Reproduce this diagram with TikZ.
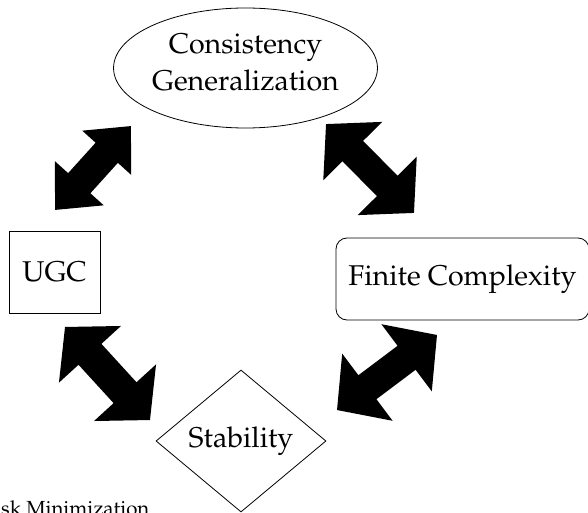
\documentclass[tikz,border=0pt]{standalone}
\usepackage[T1]{fontenc}
\usepackage{mathpazo}
\usetikzlibrary{shapes.geometric}
\newcommand\bigdarrow[6]{% center, angle, length, head width, shaft width, head length
  \fill[shift={(#1)}, rotate=#2]
    ({#3/2},0) -- ({#3/2-#6},{#4/2}) -- ({#3/2-#6},{#5/2}) -- ({-#3/2+#6},{#5/2})
    -- ({-#3/2+#6},{#4/2}) -- ({-#3/2},0) -- ({-#3/2+#6},{-#4/2}) -- ({-#3/2+#6},{-#5/2})
    -- ({#3/2-#6},{-#5/2}) -- ({#3/2-#6},{-#4/2}) -- cycle;}
\begin{document}
\begin{tikzpicture}[x=1pt,y=1pt,
  every node/.style={font=\fontsize{28.6}{37}\selectfont, inner sep=0pt},
  shapeline/.style={draw, line width=0.8pt}]
\useasboundingbox (0,0) rectangle (588,512);
\node[shapeline, ellipse, minimum width=255pt, minimum height=120pt, align=center, text depth=11pt] (cg) at (245.5,444) {Consistency\\Generalization};
\node[shapeline, rectangle, minimum width=91pt, minimum height=82pt] (ugc) at (54.5,240) {UGC};
\node[shapeline, rectangle, rounded corners=11pt, minimum width=253pt, minimum height=82pt] (fc) at (462.5,233) {Finite Complexity};
\node[shapeline, diamond, minimum width=170pt, minimum height=142pt] (st) at (241,71) {Stability};
\node[anchor=base west, font=\fontsize{20.4}{24}\selectfont] (erm) at (1,-3) {sk Minimization};
\coordinate (a1) at (93,344);
\coordinate (a2) at (370,343.5);
\coordinate (a3) at (107.5,138.5);
\coordinate (a4) at (387,139.5);
\bigdarrow{a1}{47.9}{113}{66}{30}{36}
\bigdarrow{a2}{-45.3}{125}{83}{29}{38}
\bigdarrow{a3}{-47.6}{126}{84}{31}{37}
\bigdarrow{a4}{36.9}{125}{84}{30}{38}
\end{tikzpicture}
\end{document}
